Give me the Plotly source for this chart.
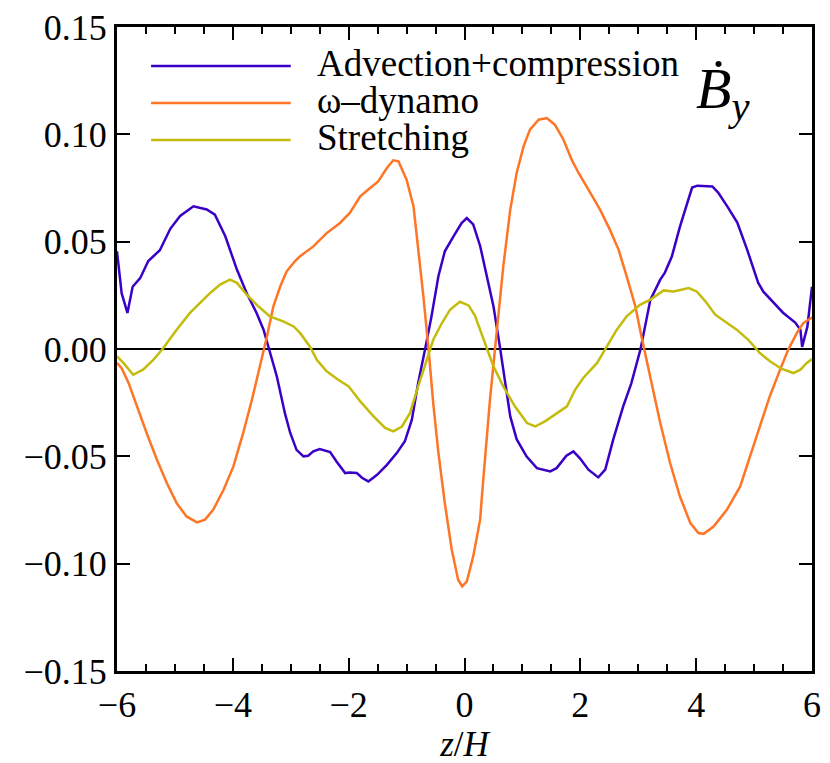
import plotly.graph_objects as go

# data
Z_ADV = [-6.00, -5.92, -5.82, -5.73, -5.60, -5.46, -5.26, -5.08, -4.91, -4.68, -4.45, -4.31, -4.13, -3.93,
         -3.76, -3.59, -3.47, -3.36, -3.24, -3.10, -3.01, -2.90, -2.78, -2.70, -2.61, -2.50, -2.32, -2.21,
         -2.06, -1.98, -1.86, -1.77, -1.66, -1.51, -1.34, -1.17, -1.03, -0.91, -0.80, -0.68, -0.57, -0.45,
         -0.34, -0.19, -0.05, 0.04, 0.15, 0.27, 0.38, 0.50, 0.61, 0.70, 0.79, 0.90, 1.07, 1.25, 1.48, 1.59,
         1.76, 1.88, 1.99, 2.14, 2.31, 2.43, 2.57, 2.74, 2.88, 3.04, 3.21, 3.38, 3.46, 3.58, 3.72, 3.93,
         4.02, 4.28, 4.38, 4.54, 4.71, 4.88, 5.07, 5.16, 5.33, 5.50, 5.71, 5.80, 5.83, 5.92, 6.00]
ADVECTION = [0.0455, 0.026, 0.0168, 0.029, 0.033, 0.041, 0.046, 0.056, 0.062, 0.0665, 0.065, 0.0626, 0.0525, 0.037,
             0.026, 0.0168, 0.009, -0.002, -0.0128, -0.030, -0.039, -0.047, -0.050, -0.0497, -0.0477, -0.0466, -0.048, -0.0524,
             -0.0578, -0.0575, -0.0578, -0.060, -0.0617, -0.0586, -0.054, -0.0485, -0.043, -0.033, -0.0158, 0.0, 0.0152, 0.034,
             0.0455, 0.0525, 0.0587, 0.061, 0.058, 0.048, 0.034, 0.0199, 0.0012, -0.0143, -0.0314, -0.042, -0.050, -0.0555, -0.057, -0.0555,
             -0.0497, -0.0477, -0.0508, -0.0562, -0.0598, -0.0562, -0.042, -0.0267, -0.016, 0.0, 0.023, 0.0323, 0.0356, 0.0431, 0.057, 0.0752,
             0.0761, 0.0757, 0.0729, 0.0663, 0.0589, 0.0463, 0.0309, 0.0267, 0.022, 0.0169, 0.0123, 0.009, 0.001, 0.0104, 0.029]

Z_OMEGA = [-6.00, -5.92, -5.80, -5.66, -5.49, -5.31, -5.14, -4.97, -4.80, -4.62, -4.48, -4.34, -4.16, -3.99,
           -3.82, -3.67, -3.53, -3.41, -3.30, -3.18, -3.07, -2.93, -2.84, -2.61, -2.38, -2.15, -1.98, -1.80,
           -1.63, -1.49, -1.34, -1.23, -1.14, -1.00, -0.88, -0.80, -0.71, -0.62, -0.54, -0.45, -0.34, -0.22,
           -0.11, -0.04, 0.04, 0.15, 0.27, 0.30, 0.44, 0.56, 0.67, 0.79, 0.90, 1.02, 1.13, 1.28, 1.42, 1.56,
           1.71, 1.85, 1.97, 2.14, 2.34, 2.51, 2.66, 2.80, 2.95, 3.05, 3.21, 3.38, 3.55, 3.72, 3.90, 4.04,
           4.13, 4.30, 4.53, 4.76, 4.93, 5.10, 5.27, 5.45, 5.59, 5.74, 5.85, 6.00]
OMEGA = [-0.0065, -0.0089, -0.0158, -0.0267, -0.039, -0.0516, -0.0624, -0.0718, -0.078, -0.0808, -0.0795, -0.0749, -0.0656, -0.0547,
         -0.039, -0.0236, -0.0081, 0.0059, 0.0199, 0.0292, 0.0362, 0.0408, 0.0432, 0.0478, 0.054, 0.0587, 0.0634, 0.0711,
         0.075, 0.0781, 0.0843, 0.0879, 0.0874, 0.0789, 0.0664, 0.0478, 0.0245, -0.0003, -0.0252, -0.0485, -0.0718, -0.0935,
         -0.1075, -0.1106, -0.1083, -0.0966, -0.0795, -0.0687, -0.0236, 0.009, 0.0385, 0.0649, 0.082, 0.0944, 0.1022, 0.1068, 0.1076, 0.1045,
         0.0975, 0.0882, 0.082, 0.0742, 0.0649, 0.0556, 0.0463, 0.0338, 0.0199, 0.0065, -0.0135, -0.0345, -0.0531, -0.0687, -0.0811, -0.0857,
         -0.0861, -0.0827, -0.0749, -0.064, -0.05, -0.0361, -0.0221, -0.0096, -0.0003, 0.0075, 0.0121, 0.0147]

Z_STRETCH = [-6.00, -5.89, -5.72, -5.55, -5.37, -5.20, -4.97, -4.74, -4.57, -4.39, -4.22, -4.05, -3.93, -3.76,
             -3.56, -3.36, -3.13, -2.95, -2.84, -2.67, -2.55, -2.38, -2.18, -2.00, -1.80, -1.57, -1.37, -1.23,
             -1.08, -0.94, -0.80, -0.65, -0.54, -0.39, -0.25, -0.08, 0.07, 0.18, 0.33, 0.50, 0.67, 0.87, 1.08,
             1.22, 1.39, 1.59, 1.77, 1.91, 2.05, 2.29, 2.46, 2.63, 2.80, 3.03, 3.21, 3.44, 3.61, 3.87, 4.01,
             4.16, 4.33, 4.53, 4.70, 4.90, 5.10, 5.28, 5.48, 5.68, 5.80, 5.91, 6.00]
STRETCHING = [-0.0034, -0.0065, -0.012, -0.0096, -0.005, 0.0005, 0.009, 0.0168, 0.0214, 0.0261, 0.030, 0.0323, 0.0308, 0.0253,
              0.0199, 0.0152, 0.0129, 0.0105, 0.0075, 0.0012, -0.005, -0.0104, -0.0143, -0.0174, -0.0244, -0.0314, -0.0368, -0.0384,
              -0.0361, -0.0298, -0.0174, -0.005, 0.0043, 0.0121, 0.0183, 0.022, 0.0203, 0.0156, 0.0043, -0.0081, -0.0174, -0.0267, -0.0345,
              -0.0361, -0.0337, -0.0298, -0.0267, -0.019, -0.0135, -0.0065, 0.0012, 0.009, 0.0152, 0.0206, 0.023, 0.0273, 0.0268, 0.0284, 0.0268,
              0.0222, 0.016, 0.0121, 0.009, 0.0043, -0.0019, -0.0058, -0.0093, -0.0112, -0.0096, -0.0065, -0.0047]

SERIES = [('Advection+compression', Z_ADV, ADVECTION, '#3a00c8'),
          ('\u03c9\u2013dynamo', Z_OMEGA, OMEGA, '#ff7526'),
          ('Stretching', Z_STRETCH, STRETCHING, '#c4bc0c')]

FONT = 'Liberation Serif'

fig = go.Figure()

# zero line
fig.add_hline(y=0, line_color='black', line_width=2, layer='below')

for name, z, vals, color in SERIES:
    fig.add_trace(go.Scatter(x=z, y=vals, mode='lines', name=name,
                             line=dict(color=color, width=2.5)))

# hand drawn legend with long line samples
legend_y = [0.9394, 0.882, 0.8245]
for (name, z, vals, color), ly in zip(SERIES, legend_y):
    fig.add_shape(type='line', xref='paper', yref='paper', x0=0.049, x1=0.250, y0=ly, y1=ly,
                  line=dict(color=color, width=2.5))
    fig.add_annotation(xref='paper', yref='paper', x=0.285, y=ly + 0.004, text=name, showarrow=False,
                       xanchor='left', yanchor='middle', font=dict(size=37, color='black', family=FONT))

# B-dot label
fig.add_annotation(xref='paper', yref='paper', x=0.830, y=0.958, showarrow=False,
                   text='<i>\u1e02</i><sub><i>y</i></sub>', xanchor='left', yanchor='top',
                   font=dict(size=58, color='black', family=FONT))

fig.update_xaxes(range=[-6, 6], tickmode='array', tickvals=[-6, -4, -2, 0, 2, 4, 6],
                 ticks='inside', ticklen=13, tickwidth=2, tickcolor='black',
                 minor=dict(dtick=0.5, ticks='inside', ticklen=7, tickwidth=2, tickcolor='black'),
                 showline=True, linewidth=3, linecolor='black', mirror='ticks',
                 showgrid=False, zeroline=False, ticklabeloverflow='allow', automargin=False,
                 tickfont=dict(size=36, family=FONT, color='black'),
                 title=dict(text='<i>z</i>/<i>H</i>', font=dict(size=35, family=FONT, color='black'), standoff=8))
fig.update_yaxes(range=[-0.15, 0.15], tickmode='array', tickvals=[-0.15, -0.10, -0.05, 0, 0.05, 0.10, 0.15],
                 tickformat='.2f', ticks='inside', ticklen=13, tickwidth=2, tickcolor='black',
                 showline=True, linewidth=3, linecolor='black', mirror='ticks',
                 showgrid=False, zeroline=False, ticklabeloverflow='allow', automargin=False,
                 tickfont=dict(size=36, family=FONT, color='black'))

# page body adds an 8px offset, so margins are shifted to land the axes where the reference has them
fig.update_layout(width=830, height=763, showlegend=False,
                  margin=dict(l=109, r=26, t=19, b=100),
                  plot_bgcolor='white', paper_bgcolor='white',
                  font=dict(family=FONT, color='black'))

fig.write_html('out.html')
